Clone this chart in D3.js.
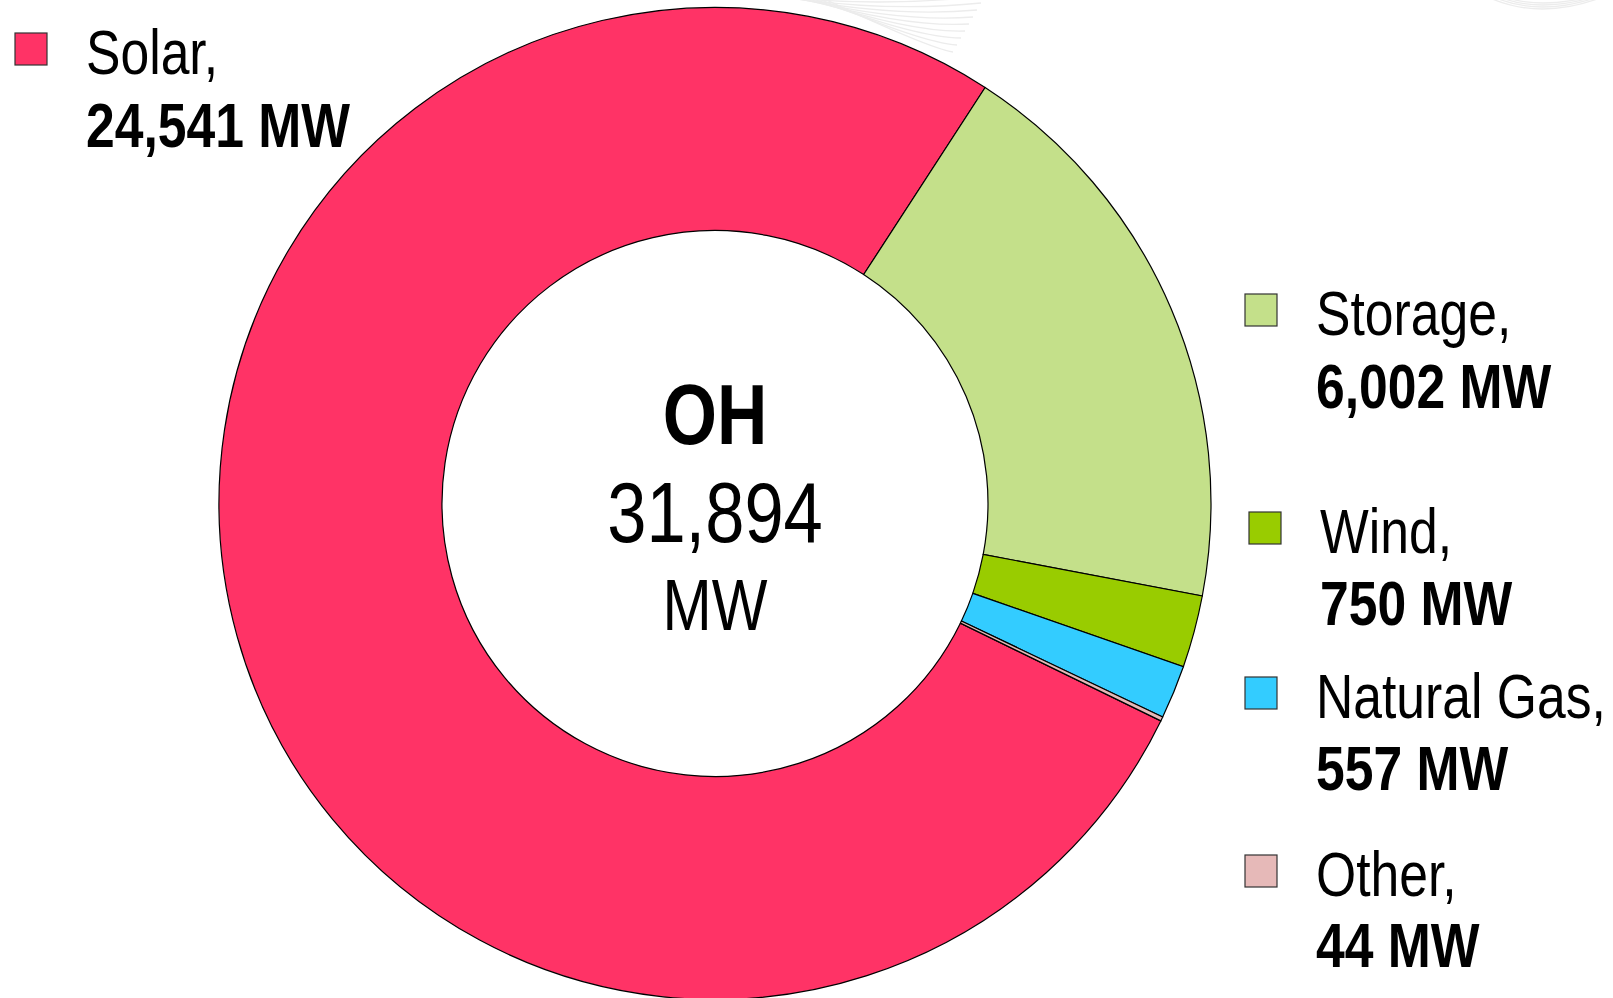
<!DOCTYPE html>
<html>
<head>
<meta charset="utf-8">
<script src="https://cdn.jsdelivr.net/npm/d3@7"></script>
<style>
  html, body { margin: 0; padding: 0; background: #fff; }
  svg { display: block; }
  text { font-family: "Liberation Sans Narrow", "Arial Narrow", "Liberation Sans", Arial, sans-serif; fill: #000; }
</style>
</head>
<body>
<div id="chart"></div>
<script>
// capacity by fuel type, legend order
const fuels = ["Solar", "Storage", "Wind", "Natural Gas", "Other"]
const megawatts = [24541, 6002, 750, 557, 44]
const colors = ["#FF3366", "#C4E08A", "#99CC00", "#33CCFF", "#E6B9B8"]
const stateName = "OH"
const totalLabel = "31,894"

const width = 1613, height = 998
const cx = 715, cy = 503.5
const outerR = 496, innerR = 273
const squeeze = 0.82 // no narrow font installed, so condense the regular one

const svg = d3.select("#chart").append("svg")
    .attr("width", width)
    .attr("height", height)

// faint watermark swirl behind the chart
const wm = svg.append("g").attr("fill", "none").attr("stroke", "#ececec").attr("stroke-width", 1.3)
for (let i = 0; i < 9; i++) {
    wm.append("path")
        .attr("d", `M${770 + i * 6},${-4} Q${880 + i * 6},${8 + i * 5} ${985 - i * 4},${-4 + i * 7}`)
}
for (let i = 0; i < 4; i++) {
    wm.append("path")
        .attr("d", `M${1490 + i * 6},${-2} Q${1540},${20 - i * 4} ${1600 - i * 5},${-2}`)
}

const data = fuels.map((f, i) => ({ fuel: f, mw: megawatts[i], color: colors[i] }))

// Storage starts at ~33deg past 12 o'clock, Solar fills the remainder before it
const solarSpan = 2 * Math.PI * megawatts[0] / d3.sum(megawatts)
const start = 33 * Math.PI / 180 - solarSpan

const pie = d3.pie()
    .value(d => d.mw)
    .sort(null)
    .startAngle(start)
    .endAngle(start + 2 * Math.PI)

const arc = d3.arc()
    .innerRadius(innerR)
    .outerRadius(outerR)

svg.append("g")
    .attr("transform", `translate(${cx},${cy})`)
    .selectAll("path")
    .data(pie(data))
    .enter().append("path")
    .attr("d", arc)
    .attr("fill", d => d.data.color)
    .attr("stroke", "#000")
    .attr("stroke-width", 1.2)

function label(g, x, y, size, bold, str, anchor) {
    return g.append("text")
        .attr("transform", `translate(${x},${y}) scale(${squeeze},1)`)
        .attr("font-size", size)
        .attr("font-weight", bold ? "bold" : "normal")
        .attr("text-anchor", anchor || "start")
        .text(str)
}

// center label
const center = svg.append("g")
label(center, cx, 444, 85, true, stateName, "middle")
label(center, cx, 542, 86, false, totalLabel, "middle")
label(center, cx, 630, 72, false, "MW", "middle")

// legend entries (swatch x, first baseline, second baseline)
const legendPos = [
    [15, 74, 147],
    [1245, 335, 408],
    [1249, 553, 625],
    [1245, 718, 790],
    [1245, 896, 967]
]

const legend = svg.append("g")
data.forEach((d, i) => {
    const [sx, b1, b2] = legendPos[i]
    legend.append("rect")
        .attr("x", sx).attr("y", b1 - 41)
        .attr("width", 32).attr("height", 32)
        .attr("fill", d.color)
        .attr("stroke", "#333").attr("stroke-width", 1.2)
    label(legend, sx + 71, b1, 63, false, d.fuel + ",")
    label(legend, sx + 71, b2, 63, true, d3.format(",")(d.mw) + " MW")
})
</script>
</body>
</html>
